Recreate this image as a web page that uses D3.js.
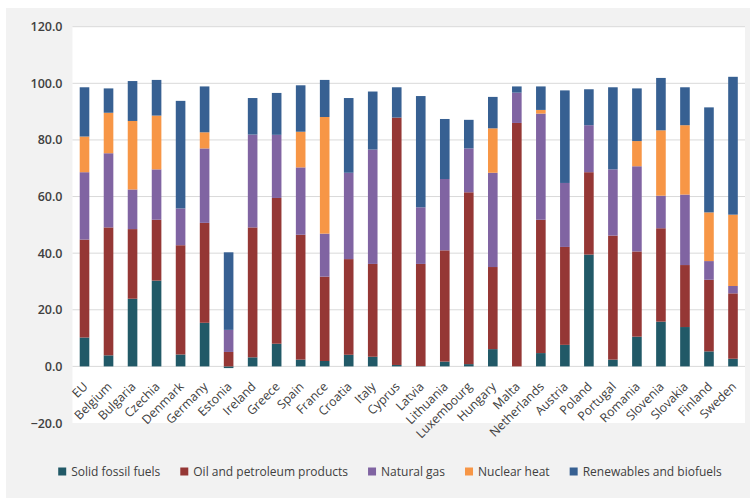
<!DOCTYPE html>
<html>
<head>
<meta charset="utf-8">
<script src="https://cdn.jsdelivr.net/npm/d3@7"></script>
<style>
  html, body { margin: 0; padding: 0; background: #ffffff; }
  svg { display: block; }
  text { font-family: "Open Sans", "Noto Sans", sans-serif; fill: #404040; }
</style>
</head>
<body>
<svg id="chart" width="754" height="501"></svg>
<script>
// Gross inland energy mix by fuel, % share
const countries = ["EU", "Belgium", "Bulgaria", "Czechia", "Denmark", "Germany", "Estonia", "Ireland",
  "Greece", "Spain", "France", "Croatia", "Italy", "Cyprus", "Latvia", "Lithuania", "Luxembourg",
  "Hungary", "Malta", "Netherlands", "Austria", "Poland", "Portugal", "Romania", "Slovenia",
  "Slovakia", "Finland", "Sweden"];

const solidFossil = [10.2, 3.9, 23.9, 30.3, 4.2, 15.4, -0.6, 3.2, 8.0, 2.4, 1.9, 4.1, 3.4, 0.5, 0.1, 1.7, 0.8,
  6.1, 0.0, 4.7, 7.6, 39.5, 2.4, 10.5, 15.8, 13.9, 5.3, 2.7];
const oilPetroleum = [34.6, 45.2, 24.6, 21.5, 38.6, 35.3, 5.1, 45.9, 51.5, 44.1, 29.8, 33.8, 32.8, 87.4, 36.1,
  39.3, 60.7, 29.0, 86.0, 47.1, 34.6, 29.1, 43.8, 30.1, 33.0, 21.9, 25.3, 23.1];
const naturalGas = [23.8, 26.2, 14.0, 17.8, 13.0, 26.3, 7.8, 32.8, 22.3, 23.8, 15.2, 30.5, 40.4, 0.0, 20.0,
  25.2, 15.5, 33.3, 10.7, 37.5, 22.6, 16.6, 23.4, 30.1, 11.5, 24.9, 6.6, 2.6];
const nuclearHeat = [12.6, 14.3, 24.2, 19.0, 0.0, 5.7, 0.0, 0.0, 0.0, 12.6, 41.2, 0.0, 0.0, 0.0, 0.0, 0.0, 0.0,
  15.7, 0.0, 1.3, 0.0, 0.0, 0.0, 8.9, 23.1, 24.5, 17.2, 25.2];
const renewables = [17.4, 8.6, 14.1, 12.6, 38.0, 16.2, 27.4, 12.9, 14.8, 16.4, 13.1, 26.4, 20.5, 10.7, 39.3,
  21.2, 10.1, 11.1, 2.2, 8.3, 32.7, 12.7, 29.0, 18.6, 18.5, 13.4, 37.1, 48.7];

const seriesNames = ["Solid fossil fuels", "Oil and petroleum products", "Natural gas", "Nuclear heat", "Renewables and biofuels"];
const seriesColors = ["#215967", "#953735", "#8064A2", "#F79646", "#376092"];
const yTicks = [-20, 0, 20, 40, 60, 80, 100, 120];

const seriesValues = [solidFossil, oilPetroleum, naturalGas, nuclearHeat, renewables];
const rows = countries.map((c, i) => {
  const r = { country: c };
  seriesNames.forEach((s, k) => { r[s] = seriesValues[k][i]; });
  return r;
});

const svg = d3.select("#chart");

// outer chart panel
svg.append("rect").attr("x", 6).attr("y", 8).attr("width", 744).attr("height", 490).attr("fill", "#f2f2f2");

const plot = { left: 72.5, right: 745, top: 26.7, bottom: 423 };
svg.append("rect")
  .attr("x", plot.left).attr("y", plot.top)
  .attr("width", plot.right - plot.left).attr("height", plot.bottom - plot.top)
  .attr("fill", "#ffffff");

const x = d3.scaleBand().domain(countries).range([plot.left, plot.right]).paddingInner(0.6).paddingOuter(0.3);
const y = d3.scaleLinear().domain([-20, 120]).range([plot.bottom, plot.top]);

// gridlines
svg.append("g").selectAll("line").data(yTicks.filter(t => t > -20)).join("line")
  .attr("x1", plot.left).attr("x2", plot.right)
  .attr("y1", d => y(d)).attr("y2", d => y(d))
  .attr("stroke", "#d9d9d9").attr("stroke-width", 1);

// y axis labels
const yAxis = d3.axisLeft(y).tickValues(yTicks).tickFormat(d3.format(".1f")).tickSize(0).tickPadding(10);
const yg = svg.append("g").attr("transform", `translate(${plot.left},0)`).call(yAxis);
yg.select(".domain").remove();
yg.selectAll("text").attr("font-size", "12.5px").attr("fill", "#404040")
  .style("font-family", "'Open Sans', sans-serif").attr("font-weight", 600);

// stacked bars
const stack = d3.stack().keys(seriesNames).offset(d3.stackOffsetDiverging);
const layers = stack(rows);
svg.append("g").selectAll("g").data(layers).join("g")
  .attr("fill", (d, i) => seriesColors[i])
  .selectAll("rect").data(d => d).join("rect")
  .attr("x", d => x(d.data.country))
  .attr("width", x.bandwidth())
  .attr("y", d => y(Math.max(d[0], d[1])))
  .attr("height", d => Math.abs(y(d[0]) - y(d[1])));

// category labels
svg.append("g").selectAll("text").data(countries).join("text")
  .attr("transform", d => `translate(${x(d) + x.bandwidth() / 2 + 4},${y(0) + 21}) rotate(-45)`)
  .attr("text-anchor", "end")
  .attr("font-size", "12.3px")
  .text(d => d);

// legend
const legend = svg.append("g").attr("transform", "translate(0,472)");
let lx = 0;
const items = legend.selectAll("g").data(seriesNames).join("g");
items.append("rect").attr("y", -4.5).attr("width", 8).attr("height", 8).attr("fill", (d, i) => seriesColors[i]);
items.append("text").attr("x", 13).attr("dy", "0.35em").attr("font-size", "12px").text(d => d);
items.each(function () {
  const w = this.querySelector("text").getComputedTextLength();
  d3.select(this).attr("transform", `translate(${lx},0)`);
  lx += 13 + w + 20;
});
const total = lx - 20;
legend.attr("transform", `translate(${390 - total / 2},472)`);
</script>
</body>
</html>
